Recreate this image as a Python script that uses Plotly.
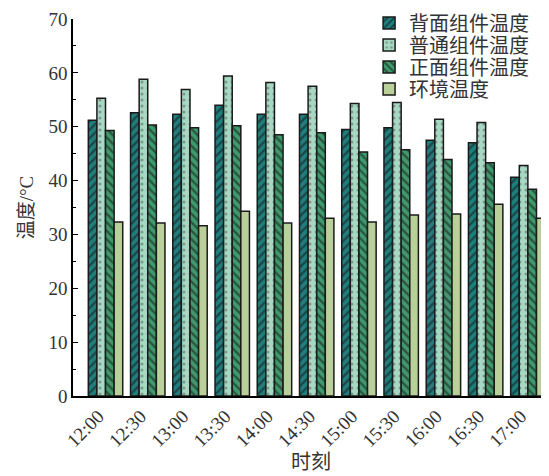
import plotly.graph_objects as go

times = ["12:00", "12:30", "13:00", "13:30", "14:00", "14:30", "15:00", "15:30", "16:00", "16:30", "17:00"]
back_temp = [51.2, 52.6, 52.3, 54.0, 52.3, 52.3, 49.5, 49.8, 47.5, 47.0, 40.6]
normal_temp = [55.3, 58.8, 56.9, 59.4, 58.2, 57.5, 54.3, 54.5, 51.4, 50.8, 42.8]
front_temp = [49.3, 50.3, 49.8, 50.2, 48.5, 48.9, 45.3, 45.7, 43.9, 43.3, 38.4]
ambient_temp = [32.3, 32.1, 31.6, 34.3, 32.1, 33.0, 32.3, 33.6, 33.8, 35.6, 33.0]

series = [
    ("背面组件温度", back_temp, "#1f7f7d", "/", "#111111", 0.4),
    ("普通组件温度", normal_temp, "#a6d8c4", ".", "#555555", 0.2),
    ("正面组件温度", front_temp, "#3f9a6e", "\\", "#111111", 0.4),
    ("环境温度", ambient_temp, "#b9d09a", "", None, 0),
]

FONT = "Liberation Serif, Times New Roman, Noto Sans CJK SC, serif"
legend_names = ["legend", "legend2", "legend3", "legend4"]
legend_y = [0.9894, 0.931, 0.8727, 0.8143]

fig = go.Figure()
for i, (name, vals, color, shape, fg, sol) in enumerate(series):
    marker = dict(color=color, line=dict(color="#1a1a1a", width=1.5))
    if shape:
        marker["pattern"] = dict(shape=shape, fgcolor=fg, size=6, solidity=sol)
    fig.add_trace(go.Bar(x=list(range(len(times))), y=vals, name=name, marker=marker,
                         legend=legend_names[i]))

layout_legends = {}
for ln, ly in zip(legend_names, legend_y):
    layout_legends[ln] = dict(x=0.622, y=ly, xanchor="left", yanchor="middle",
                              bgcolor="rgba(0,0,0,0)", font=dict(size=20, color="#333333"),
                              itemwidth=30)

# page body has an 8px default margin, so the figure is 8px smaller
fig.update_layout(
    width=541, height=468,
    margin=dict(l=65, r=0, t=11, b=80, autoexpand=False),
    barmode="group", bargap=0.185, bargroupgap=0,
    plot_bgcolor="white", paper_bgcolor="white",
    font=dict(family=FONT, size=18, color="#333333"),
    showlegend=True,
    **layout_legends,
)
fig.update_xaxes(
    tickmode="array", tickvals=list(range(len(times))), ticktext=times,
    range=[-0.77, 10.5], tickangle=-45, showline=True, linecolor="black", linewidth=1.5,
    ticks="", showgrid=False, zeroline=False, automargin=False,
    ticklabelshift=-7,
    title=dict(text="时刻", font=dict(size=20), standoff=4),
    tickfont=dict(size=19),
)
fig.update_yaxes(
    range=[0, 70], dtick=10, showline=True, linecolor="black", linewidth=1.5,
    ticks="inside", ticklen=5, tickcolor="black", showgrid=False, zeroline=False,
    minor=dict(dtick=5, ticks="inside", ticklen=3, tickcolor="black"),
    automargin=False,
    title=dict(text="温度/°C", font=dict(size=19), standoff=10),
    tickfont=dict(size=19),
)
fig.write_html("out.html")
